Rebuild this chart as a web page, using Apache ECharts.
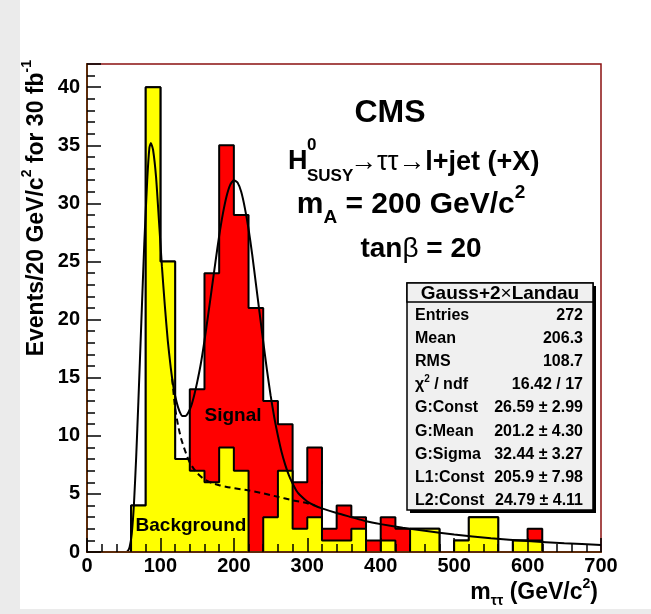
<!DOCTYPE html>
<html>
<head>
<meta charset="utf-8">
<title>CMS m_tautau</title>
<script src="https://cdn.jsdelivr.net/npm/echarts@6/dist/echarts.min.js"></script>
<style>
  html, body { margin: 0; padding: 0; background: #ececec; }
  #chart { width: 651px; height: 614px; }
</style>
</head>
<body>
<div id="chart"></div>
<script>
// 20 GeV bins, 0 .. 700 GeV/c2
const BIN_WIDTH = 20
const totalCounts = [0, 0, 0, 4, 40, 25, 8, 14, 24, 35, 29, 21, 13, 11, 6, 9, 2, 4, 3, 1, 3, 2, 2, 2, 0, 1, 3, 3, 0, 1, 2, 0, 0, 0, 0]
const bgCounts = [0, 0, 0, 4, 40, 25, 8, 7, 6, 9, 7, 0, 3, 7, 2, 3, 1, 1, 2, 0, 1, 0, 2, 2, 0, 1, 3, 3, 0, 1, 1, 0, 0, 0, 0]

// fitted curves: [m, events]
const solidFit = [
  [50, 0], [55, 0.05], [58, 0.4], [61, 1.6], [64, 4.2], [67, 8.2], [70, 13], [74, 19.8], [78, 26.5],
  [82, 32], [85, 34.8], [87, 35.2], [90, 34.6], [94, 32.3], [98, 28.5], [102, 24.6], [106, 21.2],
  [110, 18.2], [114, 15.9], [118, 14.1], [122, 12.9], [126, 12.1], [130, 11.7], [134, 11.7], [138, 12.0],
  [142, 12.6], [146, 13.5], [150, 14.6], [155, 16.2], [160, 18.2], [165, 20.4], [170, 22.7], [175, 25.0],
  [180, 27.2], [185, 29.1], [190, 30.6], [195, 31.6], [200, 32.0], [205, 31.8], [210, 31.0], [215, 29.6],
  [220, 27.8], [225, 25.6], [230, 23.1], [235, 20.6], [240, 18.1], [245, 15.7], [250, 13.5], [255, 11.6],
  [260, 10.0], [265, 8.6], [270, 7.5], [275, 6.6], [280, 5.9], [285, 5.3], [290, 4.9], [300, 4.35],
  [310, 4.0], [320, 3.75], [340, 3.35], [360, 3.0], [380, 2.65], [400, 2.4], [430, 2.08], [460, 1.82],
  [500, 1.5], [550, 1.18], [600, 0.94], [650, 0.76], [700, 0.6]
]
const bgFit = [
  [116, 14.9], [120, 12.4], [124, 10.9], [128, 9.8], [132, 9.0], [136, 8.3], [140, 7.7], [145, 7.2],
  [150, 6.8], [155, 6.5], [160, 6.25], [170, 5.95], [180, 5.75], [195, 5.55], [215, 5.35], [236, 5.1],
  [260, 4.75], [280, 4.45], [300, 4.2], [310, 4.0]
]

const statLabels = ['Entries', 'Mean', 'RMS', '\u03c7{sup|2} / ndf', 'G:Const', 'G:Mean', 'G:Sigma', 'L1:Const', 'L2:Const']
const statValues = ['272', '206.3', '108.7', '16.42 / 17', '26.59 \u00b1 2.99', '201.2 \u00b1 4.30', '32.44 \u00b1 3.27', '205.9 \u00b1 7.98', '24.79 \u00b1 4.11']

const FONT = '"Liberation Sans", Arial, Helvetica, sans-serif'

// histogram outline as step points at bin edges
function stepData(counts) {
  const pts = counts.map((v, i) => [i * BIN_WIDTH, v])
  pts.push([counts.length * BIN_WIDTH, counts[counts.length - 1]])
  return pts
}

function richStyle(size, lh) {
  const small = Math.round(size * 0.62)
  return {
    sup: { fontSize: small, fontWeight: 'bold', fontFamily: FONT, verticalAlign: 'top', lineHeight: small },
    sub: { fontSize: small, fontWeight: 'bold', fontFamily: FONT, verticalAlign: 'bottom', lineHeight: small },
    thin: { fontSize: size, fontWeight: 'normal', fontFamily: FONT, lineHeight: lh }
  }
}

// text item; opts: { extra: line-height padding, rotation }
function label(text, x, y, size, align, opts) {
  opts = opts || {}
  const lh = size + (opts.extra == null ? 14 : opts.extra)
  const el = {
    type: 'text',
    z: 100,
    style: {
      text: text,
      x: x,
      y: y,
      fill: '#000',
      font: 'bold ' + size + 'px ' + FONT,
      textAlign: align || 'left',
      textVerticalAlign: 'middle',
      lineHeight: lh,
      rich: richStyle(size, lh)
    }
  }
  if (opts.rotation) {
    el.x = x
    el.y = y
    el.rotation = opts.rotation
    el.style.x = 0
    el.style.y = 0
  }
  return el
}

const statsBox = { x: 407, y: 283, w: 186, h: 227, head: 19 }
const rowH = (statsBox.h - statsBox.head) / statLabels.length

const statsGraphics = [
  { type: 'rect', z: 90, shape: { x: statsBox.x + 3, y: statsBox.y + 3, width: statsBox.w, height: statsBox.h }, style: { fill: '#000' } },
  { type: 'rect', z: 91, shape: { x: statsBox.x, y: statsBox.y, width: statsBox.w, height: statsBox.h }, style: { fill: '#f0f0f0', stroke: '#000', lineWidth: 1.5 } },
  { type: 'rect', z: 92, shape: { x: statsBox.x, y: statsBox.y, width: statsBox.w, height: statsBox.head }, style: { fill: '#f0f0f0', stroke: '#000', lineWidth: 1.5 } },
  label('Gauss+2{thin|\u00d7}Landau', statsBox.x + statsBox.w / 2, statsBox.y + statsBox.head / 2 + 1, 19, 'center', { extra: 2 })
]
statLabels.forEach((name, i) => {
  const cy = statsBox.y + statsBox.head + rowH * (i + 0.5) + 2
  statsGraphics.push(label(name, statsBox.x + 8, cy, 16, 'left', { extra: 6 }))
  statsGraphics.push(label(statValues[i], statsBox.x + statsBox.w - 10, cy, 16, 'right', { extra: 6 }))
})

const chart = echarts.init(document.getElementById('chart'))

chart.setOption({
  backgroundColor: '#ffffff',
  animation: false,
  grid: {
    left: 87,
    right: 50,
    top: 64,
    bottom: 62,
    show: true,
    borderColor: '#8a1010',
    borderWidth: 1.5
  },
  xAxis: {
    type: 'value',
    min: 0,
    max: 700,
    interval: 100,
    z: 10,
    axisLine: { show: true, onZero: false, lineStyle: { color: '#5c2b0a', width: 2 } },
    axisTick: { show: true, inside: true, length: 14, lineStyle: { color: '#000', width: 1.5 } },
    minorTick: { show: true, splitNumber: 5, length: 8, lineStyle: { color: '#000', width: 1.5 } },
    splitLine: { show: false },
    axisLabel: { color: '#000', fontSize: 20, fontWeight: 'bold', fontFamily: FONT, margin: 4 }
  },
  yAxis: {
    type: 'value',
    min: 0,
    max: 42,
    interval: 5,
    z: 10,
    axisLine: { show: true, lineStyle: { color: '#5c2b0a', width: 2 } },
    axisTick: { show: true, inside: true, length: 14, lineStyle: { color: '#000', width: 1.5 } },
    minorTick: { show: true, splitNumber: 5, length: 8, lineStyle: { color: '#000', width: 1.5 } },
    splitLine: { show: false },
    axisLabel: { color: '#000', fontSize: 20, fontWeight: 'bold', fontFamily: FONT, margin: 7, showMaxLabel: false }
  },
  series: [
    {
      name: 'Signal',
      type: 'line',
      step: 'end',
      data: stepData(totalCounts),
      symbol: 'none',
      z: 2,
      lineStyle: { color: '#000', width: 2 },
      areaStyle: { color: '#ff0000', opacity: 1 }
    },
    {
      name: 'Background',
      type: 'line',
      step: 'end',
      data: stepData(bgCounts),
      symbol: 'none',
      z: 3,
      lineStyle: { color: '#000', width: 2 },
      areaStyle: { color: '#ffff00', opacity: 1 }
    },
    {
      name: 'Gauss+2xLandau',
      type: 'line',
      data: solidFit,
      smooth: 0.2,
      symbol: 'none',
      z: 5,
      lineStyle: { color: '#000', width: 2 }
    },
    {
      name: 'Landau',
      type: 'line',
      data: bgFit,
      smooth: 0.2,
      symbol: 'none',
      z: 5,
      lineStyle: { color: '#000', width: 2, type: [6, 4] }
    }
  ],
  graphic: [
    { type: 'rect', z: 1, shape: { x: 0, y: 0, width: 20, height: 614 }, style: { fill: '#ebebeb' } },
    { type: 'rect', z: 1, shape: { x: 0, y: 609, width: 651, height: 5 }, style: { fill: '#ebebeb' } },
    label('Signal', 233, 416, 19, 'center'),
    label('Background', 191, 526, 19, 'center'),
    label('CMS', 390, 113, 32, 'center'),
    label('H', 288, 162, 27, 'left'),
    label('0', 307, 145, 17, 'left'),
    label('SUSY', 307, 176, 17, 'left'),
    label('{thin|\u2192\u03c4\u03c4\u2192}l+jet (+X)', 350, 163, 27, 'left'),
    label('m{sub|A} = 200 GeV/c{sup|2}', 411, 205, 30, 'center'),
    label('tan{thin|\u03b2} = 20', 421, 249, 28, 'center'),
    label('Events/20 GeV/c{sup|2} for 30 fb{sup|-1}', 37, 60, 23, 'right', { rotation: Math.PI / 2, extra: 10 }),
    label('m{sub|\u03c4\u03c4} (GeV/c{sup|2})', 598, 593, 23, 'right', { extra: 8 })
  ].concat(statsGraphics)
})
</script>
</body>
</html>
